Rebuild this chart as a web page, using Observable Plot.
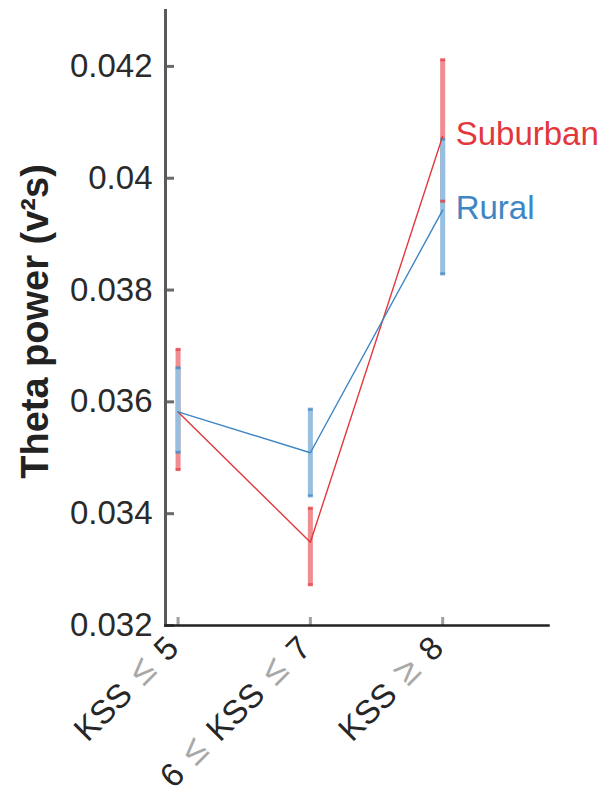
<!DOCTYPE html>
<html><head><meta charset="utf-8">
<script src="https://cdn.jsdelivr.net/npm/d3@7"></script>
<script src="https://cdn.jsdelivr.net/npm/@observablehq/plot@0.6"></script>
<style>body{margin:0;background:#fff}</style>
</head><body><div id="chart"></div>
<script>
const categories = ["KSS ≤ 5", "6 ≤ KSS ≤ 7", "KSS ≥ 8"];
const positions = [1, 2, 3];
const series = ["Suburban", "Rural"];
const suburbanMean = [0.03582, 0.03349, 0.04075];
const suburbanLow  = [0.03478, 0.03272, 0.03958];
const suburbanHigh = [0.03693, 0.03409, 0.04211];
const ruralMean = [0.03582, 0.03509, 0.03943];
const ruralLow  = [0.03509, 0.03431, 0.03828];
const ruralHigh = [0.03660, 0.03586, 0.04069];
const yTicks = [0.032, 0.034, 0.036, 0.038, 0.040, 0.042];
const yTickLabels = ["0.032", "0.034", "0.036", "0.038", "0.04", "0.042"];
const yLabel = "Theta power (v²s)";

const colors = {Suburban: "#e2383d", Rural: "#3e86c4"};
const lightColors = {Suburban: "#ef8d90", Rural: "#97bfdf"};

const rows = [];
positions.forEach((p, i) => {
  rows.push({series: "Suburban", x: p, mean: suburbanMean[i], lo: suburbanLow[i], hi: suburbanHigh[i]});
  rows.push({series: "Rural", x: p, mean: ruralMean[i], lo: ruralLow[i], hi: ruralHigh[i]});
});
const sub = rows.filter(d => d.series === "Suburban");
const rur = rows.filter(d => d.series === "Rural");

function bars(data, s) {
  return Plot.ruleX(data, {x: "x", y1: "lo", y2: "hi", stroke: lightColors[s], strokeWidth: 5});
}
function caps(data, s) {
  return [
    Plot.ruleX(data, {x: "x", y1: "lo", y2: "lo", insetTop: -1.5, insetBottom: -1.5, stroke: colors[s], strokeWidth: 5, strokeOpacity: 0.75}),
    Plot.ruleX(data, {x: "x", y1: "hi", y2: "hi", insetTop: -1.5, insetBottom: -1.5, stroke: colors[s], strokeWidth: 5, strokeOpacity: 0.75})
  ];
}

const plot = Plot.plot({
  width: 604,
  height: 794,
  marginLeft: 165,
  marginRight: 56,
  marginTop: 10,
  marginBottom: 169,
  style: {fontFamily: "'Liberation Sans', Arial, sans-serif", fontSize: "33px", color: "#2a2a2a", background: "#fff", overflow: "visible"},
  x: {type: "linear", domain: [0.905, 3.8]},
  y: {type: "linear", domain: [0.032, 0.043]},
  marks: [
    Plot.axisY(yTicks, {tickSize: -9, tickFormat: () => "", stroke: "#6a6a6a", strokeWidth: 3, label: null}),
    Plot.axisY(yTicks, {tickSize: 0, tickPadding: 13, tickFormat: d => yTickLabels[yTicks.indexOf(d)], fill: "#2a2a2a", label: null}),
    Plot.axisX(positions, {tickSize: -8, tickFormat: () => "", stroke: "#a0a0a0", strokeWidth: 3, label: null}),
    Plot.axisX(positions, {tickSize: 0, tickPadding: 17, dx: -5, tickRotate: -45, tickFormat: d => categories[positions.indexOf(d)], fill: "#262626", label: null}),
    Plot.frame({anchor: "left", stroke: "#5a5a5a", strokeWidth: 3}),
    Plot.frame({anchor: "bottom", stroke: "#222", strokeWidth: 2.5}),
    bars(sub, "Suburban"),
    bars(rur, "Rural"),
    ...caps(sub, "Suburban"),
    ...caps(rur, "Rural"),
    Plot.line(sub, {x: "x", y: "mean", stroke: colors.Suburban, strokeWidth: 1.4}),
    Plot.line(rur, {x: "x", y: "mean", stroke: colors.Rural, strokeWidth: 1.4}),
    Plot.text(rows.filter(d => d.x === positions[positions.length - 1]), {
      x: "x", y: "mean", text: "series", dx: 13, dy: -2, textAnchor: "start",
      fill: d => colors[d.series], fontSize: 33
    })
  ]
});

// Gray, slightly larger comparison symbols in x tick labels
const ns = "http://www.w3.org/2000/svg";
plot.querySelectorAll('g[aria-label="x-axis tick label"] text').forEach(t => {
  const s = t.textContent;
  t.textContent = "";
  let afterSym = false;
  s.split(/([≤≥])/).forEach(part => {
    if (!part) return;
    const ts = document.createElementNS(ns, "tspan");
    ts.textContent = part;
    if (/[≤≥]/.test(part)) {
      ts.setAttribute("fill", "#a8a8a8");
      ts.setAttribute("font-size", "38");
      ts.setAttribute("dx", "4");
      afterSym = true;
    } else if (afterSym) {
      ts.setAttribute("dx", "4");
      afterSym = false;
    }
    t.appendChild(ts);
  });
});

// Y axis title
d3.select(plot).append("text")
  .attr("transform", "translate(48,321.5) rotate(-90)")
  .attr("text-anchor", "middle")
  .attr("font-size", 38)
  .attr("font-weight", "bold")
  .attr("fill", "#222")
  .text(yLabel);

document.getElementById("chart").appendChild(plot);
</script>
</body></html>
